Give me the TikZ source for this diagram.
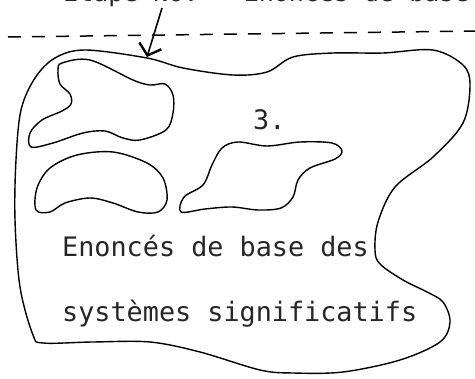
\documentclass[tikz,border=0pt]{standalone}
\usepackage{fontspec}
\usetikzlibrary{arrows.meta}
\newfontfamily\typefont{DejaVu Sans Mono}
\tikzset{
  outline/.style={line width=1.4pt, line join=round, smooth cycle, tension=0.55},
  label/.style={inner sep=0pt, anchor=base west, text=black!85},
  bodytext/.style={label, font=\typefont\fontsize{26.8}{30}\selectfont},
}
\begin{document}
\begin{tikzpicture}[x=1pt, y=-1pt]
\useasboundingbox (0,0) rectangle (475,379);

% heading line, running over the top edge
\node[label, font=\typefont\fontsize{25}{28}\selectfont] (head) at (63,2)
  {Etape No.~~~Enoncés de base};

% dashed separator
\coordinate (dl) at (8,37);
\coordinate (dr) at (478,31);
\draw[line width=1.5pt, dash pattern=on 13pt off 11pt] (dl) -- (dr);

% large region
\draw[outline] plot coordinates {
  (147,58) (183,68) (233,75) (267,72) (293,57) (333,53) (383,53) (433,50)
  (463,65) (470,85) (463,123) (433,157) (395,187) (378,222) (375,250)
  (380,264) (403,280) (427,292) (443,302) (450,322) (440,342) (400,360)
  (343,372) (293,373) (260,370) (200,352) (150,342) (93,342) (43,343)
  (33,335) (20,287) (15,220) (16,160) (21,110) (35,78) (55,58) (85,50)
};

% upper left island
\draw[outline] plot coordinates {
  (62,63) (90,60) (133,80) (150,85) (165,84) (173,95) (173,113) (166,130)
  (140,140) (123,138) (105,131) (83,133) (53,143) (31,147) (30,133)
  (42,120) (62,111) (71,104) (70,94) (60,84) (58,70)
};

% lower left crescent
\draw[outline] plot coordinates {
  (36,210) (37,188) (50,168) (77,155) (113,152) (147,163) (163,178)
  (167,200) (158,212) (138,212) (113,203) (90,198) (65,203) (50,212)
};

% middle island
\draw[outline] plot coordinates {
  (181,212) (184,197) (203,185) (212,165) (222,148) (238,142) (267,146)
  (300,142) (332,143) (342,151) (335,159) (310,168) (298,180) (293,197)
  (281,208) (258,210) (232,207) (205,209)
};

% arrow onto the boundary
\coordinate (tail) at (162,8);
\coordinate (tip) at (147,57);
\draw[line width=1.6pt, -{Straight Barb[length=10pt, width=23pt, line width=2.4pt]}] (tail) -- (tip);

% labels
\node[bodytext] (num) at (253,130) {3.};
\node[bodytext] (l1) at (62,257) {Enoncés de base des};
\node[bodytext] (l2) at (62,322) {systèmes significatifs};
\end{tikzpicture}
\end{document}
